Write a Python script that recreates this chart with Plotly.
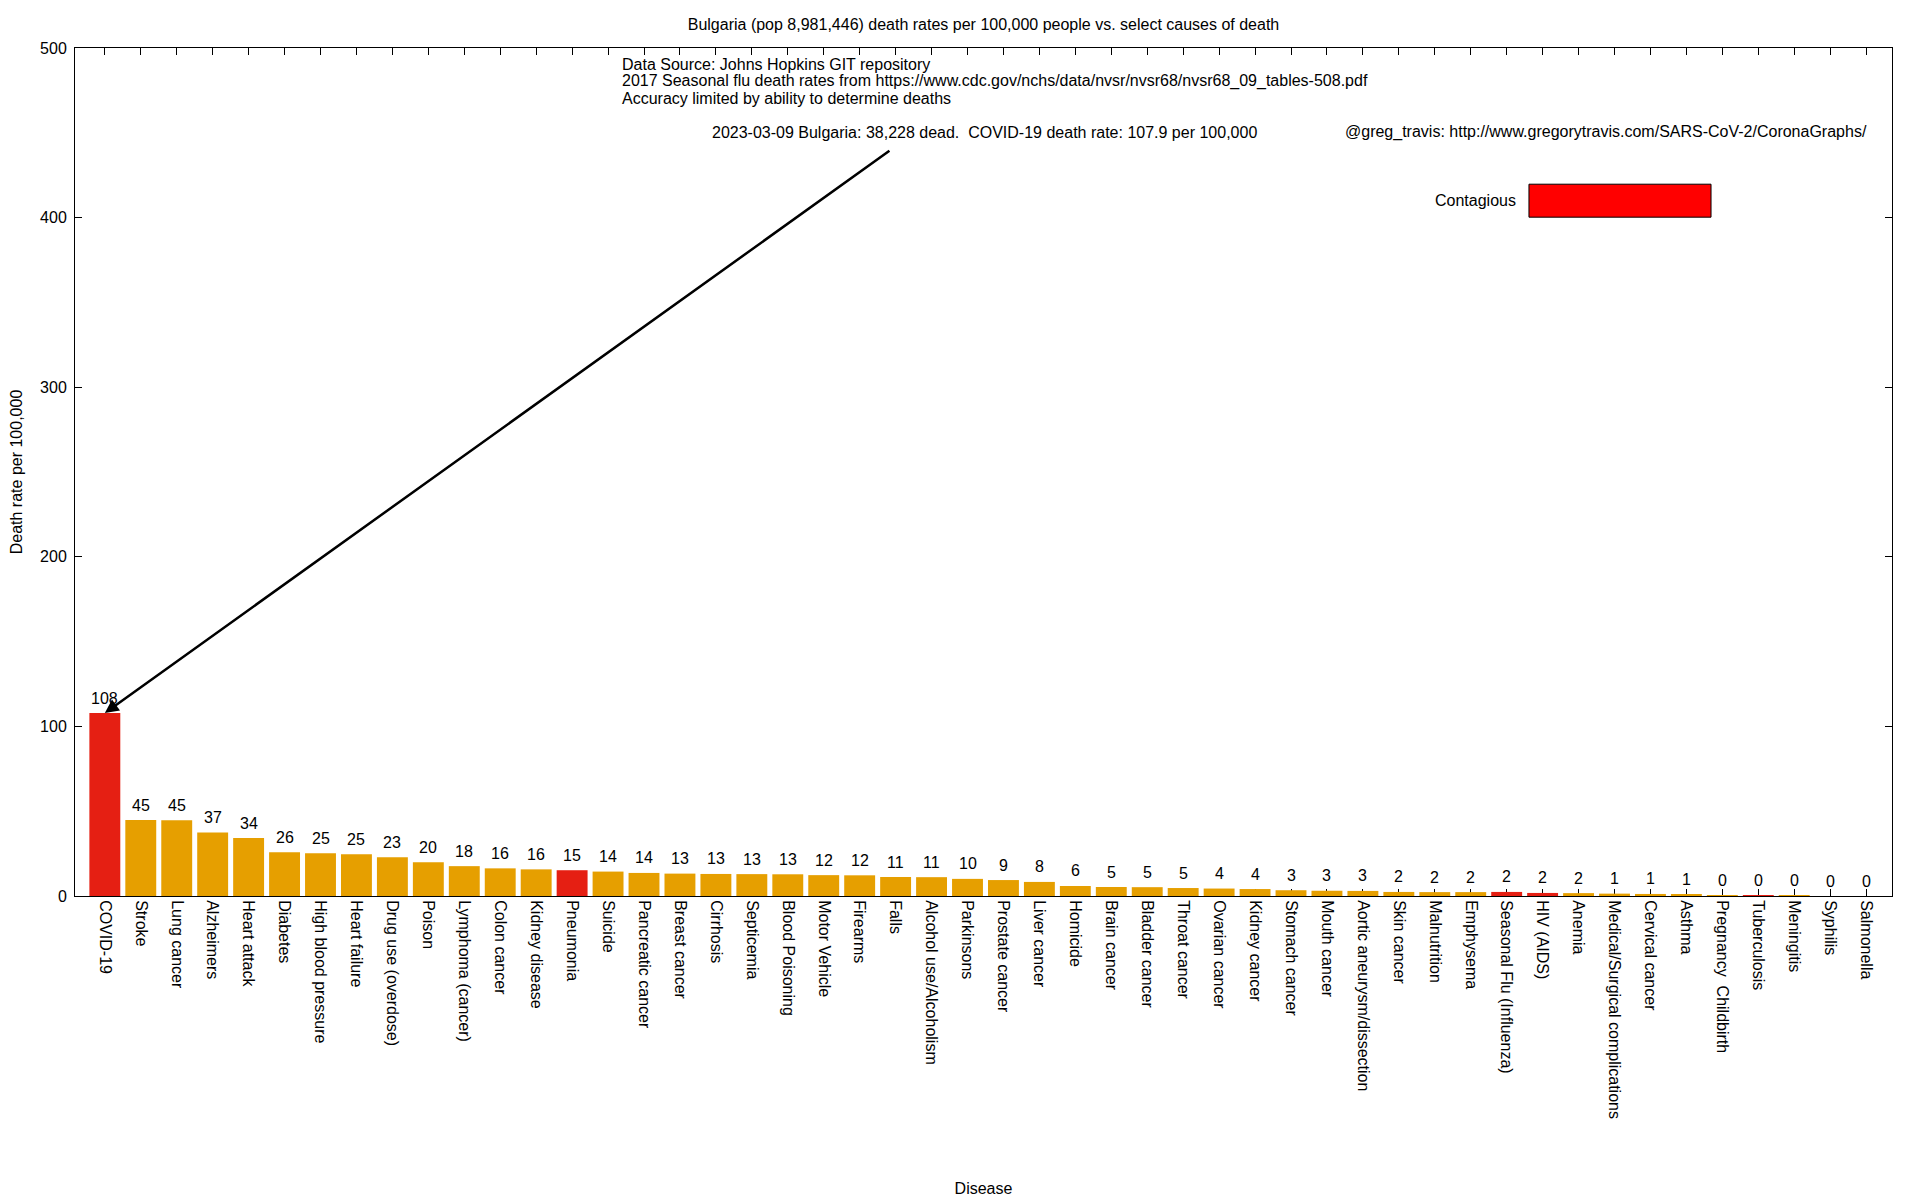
import plotly.graph_objects as go

# ---- data ----
diseases = [
    "COVID-19", "Stroke", "Lung cancer", "Alzheimers", "Heart attack", "Diabetes",
    "High blood pressure", "Heart failure", "Drug use (overdose)", "Poison",
    "Lymphoma (cancer)", "Colon cancer", "Kidney disease", "Pneumonia", "Suicide",
    "Pancreatic cancer", "Breast cancer", "Cirrhosis", "Septicemia", "Blood Poisoning",
    "Motor Vehicle", "Firearms", "Falls", "Alcohol use/Alcoholism", "Parkinsons",
    "Prostate cancer", "Liver cancer", "Homicide", "Brain cancer", "Bladder cancer",
    "Throat cancer", "Ovarian cancer", "Kidney cancer", "Stomach cancer", "Mouth cancer",
    "Aortic aneurysm/dissection", "Skin cancer", "Malnutrition", "Emphysema",
    "Seasonal Flu (Influenza)", "HIV (AIDS)", "Anemia", "Medical/Surgical complications",
    "Cervical cancer", "Asthma", "Pregnancy  Childbirth", "Tuberculosis", "Meningitis",
    "Syphilis", "Salmonella",
]
rates = [
    107.9, 44.8, 44.7, 37.4, 34.2, 25.8,
    25.2, 24.6, 22.8, 19.9,
    17.6, 16.3, 15.7, 15.2, 14.4,
    13.6, 13.2, 13.0, 12.9, 12.8,
    12.3, 12.2, 11.2, 11.1, 10.1,
    9.4, 8.3, 5.9, 5.3, 5.2,
    4.7, 4.4, 4.1, 3.4, 3.1,
    3.0, 2.4, 2.3, 2.3,
    2.4, 1.8, 1.7, 1.4,
    1.2, 1.0, 0.4, 0.4, 0.3,
    0.0, 0.0,
]
contagious = [
    True, False, False, False, False, False,
    False, False, False, False,
    False, False, False, True, False,
    False, False, False, False, False,
    False, False, False, False, False,
    False, False, False, False, False,
    False, False, False, False, False,
    False, False, False, False,
    True, True, False, False,
    False, False, False, True, False,
    False, False,
]
y_ticks = [0, 100, 200, 300, 400, 500]

title_text = "Bulgaria (pop 8,981,446) death rates per 100,000 people vs. select causes of death"
info_lines = [
    "Data Source: Johns Hopkins GIT repository",
    "2017 Seasonal flu death rates from https://www.cdc.gov/nchs/data/nvsr/nvsr68/nvsr68_09_tables-508.pdf",
    "Accuracy limited by ability to determine deaths",
]
status_text = "2023-03-09 Bulgaria: 38,228 dead.  COVID-19 death rate: 107.9 per 100,000"
credit_text = "@greg_travis: http://www.gregorytravis.com/SARS-CoV-2/CoronaGraphs/"

ORANGE = "#e69f00"
RED = "#e51f13"
FONT = "Liberation Sans, Arial, Helvetica, sans-serif"
FS = 16

colors = [RED if c else ORANGE for c in contagious]

fig = go.Figure()
fig.add_trace(go.Bar(
    x=diseases, y=rates, marker=dict(color=colors, line=dict(width=0)),
    showlegend=False, hoverinfo="x+y",
))

# value labels above bars
for d, v in zip(diseases, rates):
    fig.add_annotation(x=d, y=v, text=f"{v:.0f}", showarrow=False,
                       yshift=15, yanchor="middle", xanchor="center",
                       font=dict(size=FS, color="black", family=FONT))

# info text block
info_y = [0.981, 0.961, 0.941]
for line, yy in zip(info_lines, info_y):
    fig.add_annotation(xref="paper", yref="paper", x=0.300, y=yy, text=line,
                       showarrow=False, xanchor="left", yanchor="middle",
                       font=dict(size=FS, color="black", family=FONT))
fig.add_annotation(xref="paper", yref="paper", x=0.3495, y=0.9008, text=status_text,
                   showarrow=False, xanchor="left", yanchor="middle",
                   font=dict(size=FS, color="black", family=FONT))
fig.add_annotation(xref="paper", yref="paper", x=0.9873, y=0.9008, text=credit_text,
                   showarrow=False, xanchor="right", yanchor="middle",
                   font=dict(size=FS, color="black", family=FONT))

# arrow to COVID bar
fig.add_annotation(x=0, y=rates[0], xref="x", yref="y", ax=21.87, ay=440,
                   axref="x", ayref="y", text="", showarrow=True,
                   arrowhead=2, arrowsize=1.1, arrowwidth=2.5, arrowcolor="black",
                   standoff=0)

# legend key
fig.add_shape(type="rect", xref="paper", yref="paper",
              x0=0.8002, x1=0.9004, y0=0.8005, y1=0.8394,
              fillcolor="#ff0000", line=dict(color="black", width=1))
fig.add_annotation(xref="paper", yref="paper", x=0.794, y=0.8205, text="Contagious",
                   showarrow=False, xanchor="right", yanchor="middle",
                   font=dict(size=FS, color="black", family=FONT))

fig.update_layout(
    width=1920, height=1200,
    margin=dict(l=75, r=28, t=48, b=304, autoexpand=False),
    paper_bgcolor="white", plot_bgcolor="white",
    bargap=0.14,
    font=dict(family=FONT, size=FS, color="black"),
    title=dict(text=title_text, x=0.5, xref="paper", y=1 - 24 / 1200, yanchor="middle",
               font=dict(size=FS, color="black", family=FONT)),
)
fig.update_xaxes(
    type="category", range=[-0.83, 49.72],
    showline=True, linecolor="black", linewidth=1, mirror="ticks",
    ticks="inside", ticklen=7, tickcolor="black", tickwidth=1,
    tickangle=90, tickfont=dict(size=FS, family=FONT, color="black"),
    showgrid=False, layer="below traces",
    title=dict(text="Disease", standoff=64, font=dict(size=FS, family=FONT)),
    automargin=False,
)
fig.update_yaxes(
    range=[0, 500], tickvals=y_ticks,
    showline=True, linecolor="black", linewidth=1, mirror="ticks",
    ticks="inside", ticklen=7, tickcolor="black", tickwidth=1,
    tickfont=dict(size=FS, family=FONT, color="black"), ticklabelstandoff=4,
    showgrid=False, zeroline=False, layer="below traces",
    title=dict(text="Death rate per 100,000", standoff=13, font=dict(size=FS, family=FONT)),
    automargin=False,
)

fig.write_html("out.html", config={"displayModeBar": False},
               post_script="document.body.style.margin='0px';")
